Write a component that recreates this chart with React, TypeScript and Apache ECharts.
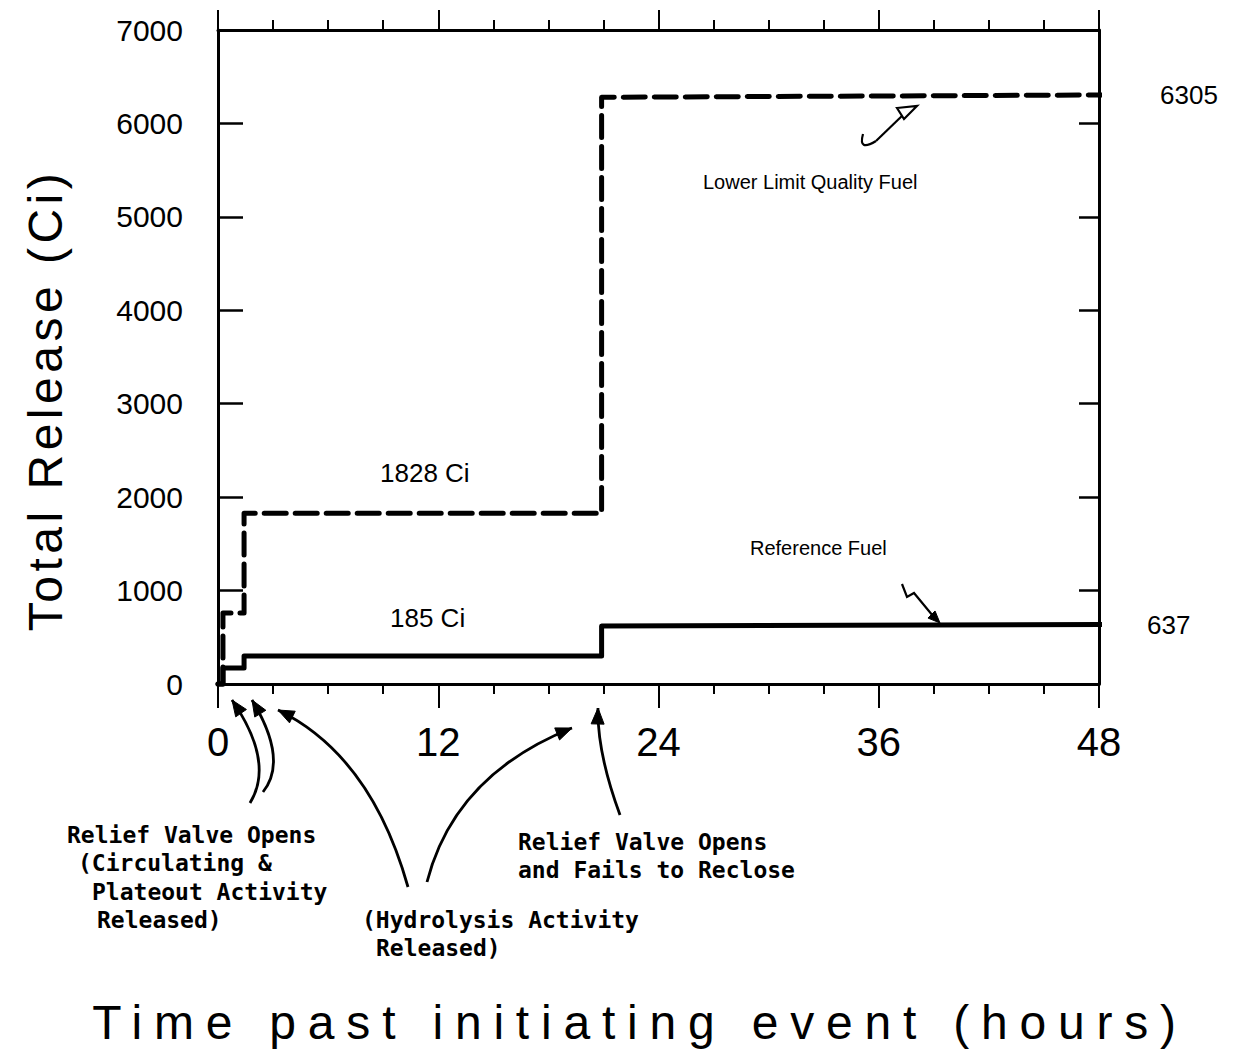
import React, { useEffect, useRef } from "react";
import * as echarts from "echarts";

// ---- data ----
const refTimes = [0, 0.27, 0.27, 1.42, 1.42, 20.9, 20.9, 48.8];
const refValues = [0, 0, 170, 170, 300, 300, 620, 637];
const llqTimes = [0, 0.27, 0.27, 1.42, 1.42, 20.9, 20.9, 48.8];
const llqValues = [0, 0, 760, 760, 1828, 1828, 6280, 6305];
const xMajorTicks = [0, 12, 24, 36, 48];
const yTicks = [0, 1000, 2000, 3000, 4000, 5000, 6000, 7000];
const seriesNames = ["Reference Fuel", "Lower Limit Quality Fuel"];
const xTitle = "Time past initiating event (hours)";
const yTitle = "Total Release (Ci)";

const SANS = "'Liberation Sans', Arial, sans-serif";
const MONO = "'DejaVu Sans Mono', 'Liberation Mono', monospace";

function arrowHead(tx: number, ty: number, cx: number, cy: number, L = 16, W = 6.5) {
  const dx = tx - cx, dy = ty - cy;
  const d = Math.hypot(dx, dy) || 1;
  const ux = dx / d, uy = dy / d;
  const bx = tx - ux * L, by = ty - uy * L;
  const px = -uy, py = ux;
  return {
    type: "polygon",
    shape: { points: [[tx, ty], [bx + px * W, by + py * W], [bx - px * W, by - py * W]] },
    style: { fill: "#000", stroke: "#000", lineWidth: 1 },
    z: 100,
  };
}

function curvedArrow(tail: number[], mid: number[], tip: number[]) {
  const cx = 2 * mid[0] - (tail[0] + tip[0]) / 2;
  const cy = 2 * mid[1] - (tail[1] + tip[1]) / 2;
  return [
    {
      type: "bezierCurve",
      shape: { x1: tail[0], y1: tail[1], x2: tip[0], y2: tip[1], cpx1: cx, cpy1: cy },
      style: { stroke: "#000", lineWidth: 2.8, fill: null },
      z: 100,
    },
    arrowHead(tip[0], tip[1], cx, cy),
  ];
}

function monoText(text: string, x: number, y: number) {
  return {
    type: "text",
    x,
    y,
    style: {
      text,
      font: `bold 23px ${MONO}`,
      fill: "#000",
      textVerticalAlign: "middle",
      textAlign: "left",
    },
    z: 100,
  };
}

function sansText(text: string, x: number, y: number, size: number, align = "left") {
  return {
    type: "text",
    x,
    y,
    style: {
      text,
      font: `${size}px ${SANS}`,
      fill: "#000",
      textVerticalAlign: "middle",
      textAlign: align,
    },
    z: 100,
  };
}

const spacing: Record<string, number> = {
  [xTitle]: 11.8,
  [yTitle]: 4.5,
};

function applySpacing(root: HTMLElement | null) {
  if (!root) return;
  root.querySelectorAll("text").forEach((el) => {
    const t = (el.textContent || "").trim();
    if (spacing[t] !== undefined) {
      (el as SVGTextElement).style.letterSpacing = spacing[t] + "px";
    }
  });
}

export default function App() {
  const ref = useRef<HTMLDivElement>(null);
  useEffect(() => {
    if (!ref.current) return;
    const chart = echarts.init(ref.current, null, { renderer: "svg" });

    const axisLine = { show: true, onZero: false, lineStyle: { color: "#000", width: 3 } };
    const noLine = { show: false, onZero: false };
    const baseX = { type: "value", min: 0, max: 48, splitLine: { show: false } };

    const graphics: any[] = [
      ...curvedArrow([250, 803], [258, 757], [232, 700]),
      ...curvedArrow([263, 792], [273, 753], [252, 700]),
      ...curvedArrow([408, 887], [357, 777], [278, 710]),
      ...curvedArrow([427, 882], [477, 790], [572, 728]),
      ...curvedArrow([620, 815], [603, 757], [598, 708]),
      {
        type: "polyline",
        shape: { points: [[902, 584], [907, 597], [914, 593], [933, 616]] },
        style: { stroke: "#000", lineWidth: 2.2, fill: null },
        z: 100,
      },
      arrowHead(940, 623, 933, 616, 12, 5),
      {
        type: "bezierCurve",
        shape: { x1: 863, y1: 134, x2: 876, y2: 141, cpx1: 858, cpy1: 152 },
        style: { stroke: "#000", lineWidth: 2.2, fill: null },
        z: 100,
      },
      {
        type: "line",
        shape: { x1: 876, y1: 141, x2: 904, y2: 114 },
        style: { stroke: "#000", lineWidth: 2.2 },
        z: 100,
      },
      {
        type: "polygon",
        shape: { points: [[897, 108], [917, 106], [904, 119]] },
        style: { fill: "#fff", stroke: "#000", lineWidth: 2.2 },
        z: 101,
      },
      sansText("1828 Ci", 380, 473, 26),
      sansText("185 Ci", 390, 618, 26),
      sansText(seriesNames[1], 703, 182, 20),
      sansText(seriesNames[0], 750, 548, 20),
      monoText("Relief Valve Opens", 67, 835),
      monoText("(Circulating &", 78, 863),
      monoText("Plateout Activity", 92, 892),
      monoText("Released)", 97, 920),
      monoText("(Hydrolysis Activity", 362, 920),
      monoText("Released)", 376, 948),
      monoText("Relief Valve Opens", 518, 842),
      monoText("and Fails to Reclose", 518, 870),
      sansText(xTitle, 640, 1022, 48, "center"),
      {
        ...sansText(yTitle, 45, 400, 48, "center"),
        rotation: Math.PI / 2,
      },
    ];

    chart.setOption({
      animation: false,
      backgroundColor: "#fff",
      grid: { left: 218, top: 30, right: 148, bottom: 375, containLabel: false },
      xAxis: [
        {
          ...baseX,
          position: "bottom",
          interval: 3,
          axisLine,
          axisTick: { show: true, inside: false, length: 10, lineStyle: { color: "#000", width: 2 } },
          axisLabel: { show: false },
        },
        {
          ...baseX,
          position: "bottom",
          interval: 12,
          axisLine: noLine,
          axisTick: { show: true, inside: false, length: 24, lineStyle: { color: "#000", width: 2 } },
          axisLabel: {
            show: true,
            margin: 38,
            fontFamily: SANS,
            fontSize: 40,
            color: "#000",
            formatter: (v: number) => (xMajorTicks.includes(v) ? String(v) : ""),
          },
        },
        {
          ...baseX,
          position: "top",
          interval: 3,
          axisLine,
          axisTick: { show: true, inside: false, length: 10, lineStyle: { color: "#000", width: 2 } },
          axisLabel: { show: false },
        },
        {
          ...baseX,
          position: "top",
          interval: 12,
          axisLine: noLine,
          axisTick: { show: true, inside: false, length: 20, lineStyle: { color: "#000", width: 2 } },
          axisLabel: { show: false },
        },
      ],
      yAxis: [
        {
          type: "value",
          position: "left",
          min: 0,
          max: 7000,
          interval: 1000,
          splitLine: { show: false },
          axisLine,
          axisTick: { show: true, inside: true, length: 25, lineStyle: { color: "#000", width: 2.5 } },
          axisLabel: {
            show: true,
            margin: 35,
            fontFamily: SANS,
            fontSize: 30,
            color: "#000",
            formatter: (v: number) => (yTicks.includes(v) ? String(v) : ""),
          },
        },
        {
          type: "value",
          position: "right",
          offset: 0,
          min: 0,
          max: 7000,
          interval: 1000,
          splitLine: { show: false },
          axisLine,
          axisTick: { show: true, inside: true, length: 20, lineStyle: { color: "#000", width: 2.5 } },
          axisLabel: { show: false },
        },
      ],
      series: [
        {
          name: seriesNames[0],
          type: "line",
          xAxisIndex: 0,
          yAxisIndex: 0,
          clip: false,
          symbol: "none",
          data: refTimes.map((t, i) => [t, refValues[i]]),
          lineStyle: { color: "#000", width: 5, cap: "round", join: "round" },
          endLabel: {
            show: true,
            distance: 45,
            fontFamily: SANS,
            fontSize: 26,
            color: "#000",
            formatter: () => String(refValues[refValues.length - 1]),
          },
          z: 10,
        },
        {
          name: seriesNames[1],
          type: "line",
          xAxisIndex: 0,
          yAxisIndex: 0,
          clip: false,
          symbol: "none",
          data: llqTimes.map((t, i) => [t, llqValues[i]]),
          lineStyle: { color: "#000", width: 5, type: [22, 9], cap: "round", join: "round" },
          endLabel: {
            show: true,
            distance: 58,
            fontFamily: SANS,
            fontSize: 26,
            color: "#000",
            formatter: () => String(llqValues[llqValues.length - 1]),
          },
          z: 9,
        },
      ],
      graphic: graphics,
    });
    const el = ref.current;
    applySpacing(el);
    chart.on("finished", () => applySpacing(el));
    return () => chart.dispose();
  }, []);

  return (
    <div
      ref={ref}
      style={{ position: "absolute", left: 0, top: 0, width: 1247, height: 1059, background: "#fff" }}
    />
  );
}
